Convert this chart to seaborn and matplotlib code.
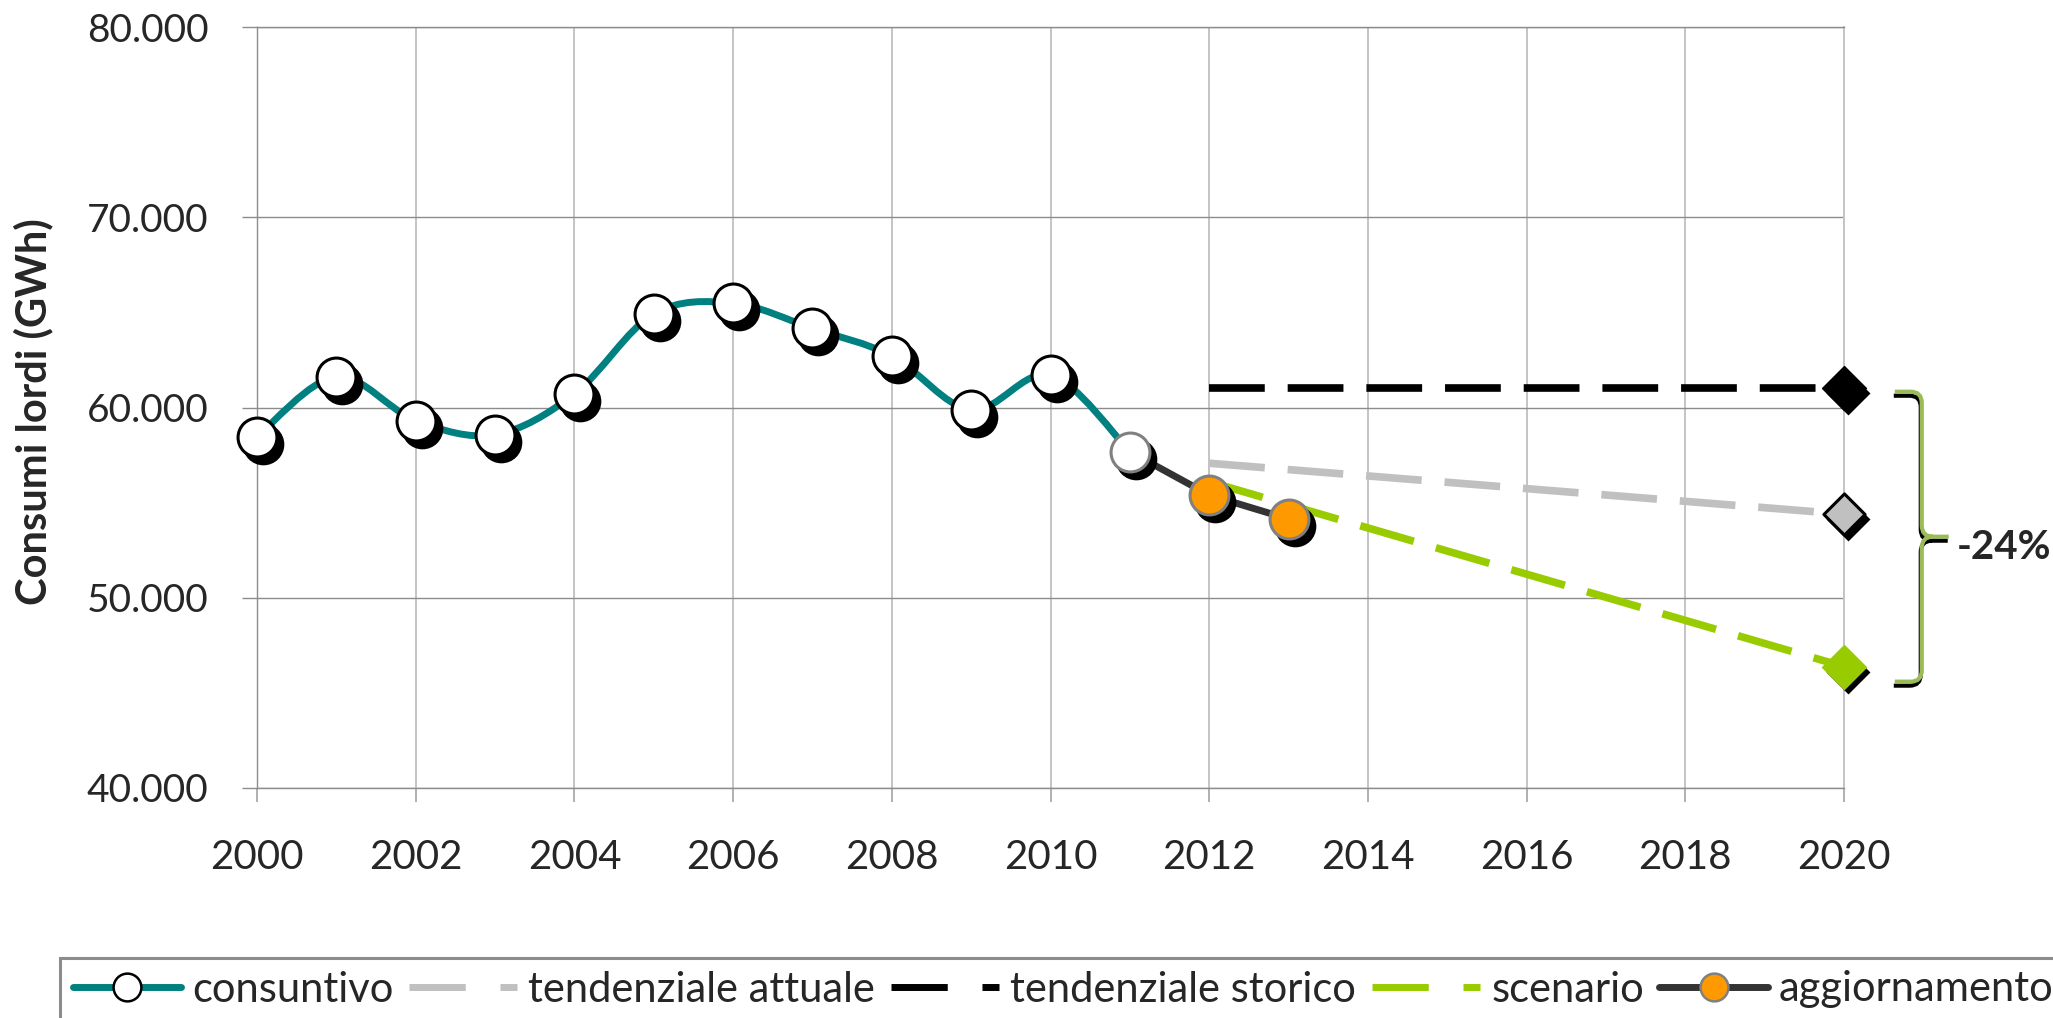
import numpy as np
import matplotlib
matplotlib.use("Agg")
import matplotlib.pyplot as plt
from matplotlib.path import Path
from matplotlib.patches import PathPatch
from matplotlib.lines import Line2D
from matplotlib.transforms import offset_copy
from matplotlib.ticker import FuncFormatter
import seaborn as sns

# consumi lordi (GWh)
anni_consuntivo = [2000, 2001, 2002, 2003, 2004, 2005, 2006, 2007, 2008, 2009, 2010, 2011]
consuntivo = [58470, 61620, 59310, 58570, 60710, 64920, 65480, 64160, 62710, 59870, 61710, 57680]

anni_aggiornamento = [2011, 2012, 2013]
aggiornamento = [57680, 55400, 54140]

anni_tendenza = [2012, 2020]
tendenziale_attuale = [57070, 54400]
tendenziale_storico = [61050, 61050]
scenario = [56100, 46380]

# graffa a destra (anno, GWh)
graffa_x = [2020.64, 2020.98, 2021.32]
graffa_y = [60830, 53210, 45590]

etichette = ['consuntivo', 'tendenziale attuale', 'tendenziale storico',
             'scenario', 'aggiornamento']

TEAL = '#008080'
GRIGIO = '#C0C0C0'
VERDE = '#99CC00'
ARANCIO = '#FF9900'
SCURO = '#333333'
OLIVA = '#9BBB59'

sns.set_style("white")
plt.rcParams['font.family'] = ['Lato', 'DejaVu Sans']


def smooth_path(xs, ys):
    """Curva liscia tipo Excel (Bezier cubica sui punti)"""
    pts = np.column_stack([xs, ys]).astype(float)
    verts = [pts[0]]
    codes = [Path.MOVETO]
    n = len(pts)
    for i in range(n - 1):
        p0 = pts[max(i - 1, 0)]
        p1 = pts[i]
        p2 = pts[i + 1]
        p3 = pts[min(i + 2, n - 1)]
        verts += [p1 + (p2 - p0) / 6, p2 - (p3 - p1) / 6, p2]
        codes += [Path.CURVE4] * 3
    return Path(verts, codes)


W, H = 2053, 1018
fig = plt.figure(figsize=(W / 100, H / 100), dpi=100)
ax = fig.add_axes([257 / W, (H - 788) / H, (1844 - 257) / W, (788 - 27) / H])

ax.set_xlim(2000, 2020)
ax.set_ylim(40000, 80000)

# griglia
ax.set_xticks(range(2000, 2021, 2))
ax.set_yticks(range(40000, 80001, 10000))
ax.yaxis.set_major_formatter(FuncFormatter(lambda v, p: f"{v:,.0f}".replace(',', '.')))
ax.grid(axis='y', color='#8C8C8C', lw=1.0)
ax.grid(axis='x', color='#C4C4C4', lw=1.4)
ax.set_axisbelow(True)
for s in ['top', 'bottom']:
    ax.spines[s].set_color('#8C8C8C')
    ax.spines[s].set_linewidth(1.0)
ax.spines['left'].set_color('#8C8C8C')
ax.spines['left'].set_linewidth(1.0)
ax.spines['right'].set_color('#C4C4C4')
ax.spines['right'].set_linewidth(1.4)

ax.tick_params(axis='y', direction='out', length=10.8, width=1.0, color='#8C8C8C',
               pad=24, labelsize=28, left=True)
ax.tick_params(axis='x', direction='out', length=10, width=1.4, color='#B0B0B0',
               pad=27, labelsize=29, bottom=True)

# linee tratteggiate
tratto = (0, (7.3, 3.0))
sns.lineplot(x=anni_tendenza, y=tendenziale_attuale, color=GRIGIO, lw=5.5,
             linestyle=tratto, dash_capstyle='butt', ax=ax, zorder=2)
sns.lineplot(x=anni_tendenza, y=tendenziale_storico, color='black', lw=5.5,
             linestyle=tratto, dash_capstyle='butt', ax=ax, zorder=2)
sns.lineplot(x=anni_tendenza, y=scenario, color=VERDE, lw=5.5,
             linestyle=tratto, dash_capstyle='butt', ax=ax, zorder=2)

# consuntivo (linea smussata)
ax.add_patch(PathPatch(smooth_path(anni_consuntivo, consuntivo), fill=False,
                       edgecolor=TEAL, lw=5, capstyle='round', zorder=3))
sns.lineplot(x=anni_aggiornamento, y=aggiornamento, color=SCURO, lw=5, ax=ax, zorder=3)

# ombre dei marker
ombra = offset_copy(ax.transData, fig=fig, x=6, y=-7, units='dots')
ombra_d = offset_copy(ax.transData, fig=fig, x=4, y=-5, units='dots')
sns.scatterplot(x=anni_consuntivo + anni_aggiornamento[1:],
                y=consuntivo + aggiornamento[1:], s=900, color='black',
                linewidth=0, transform=ombra, zorder=4, ax=ax, legend=False, clip_on=False)
sns.scatterplot(x=[2020] * 3, y=[tendenziale_storico[-1], tendenziale_attuale[-1], scenario[-1]],
                marker='D', s=500, color='black', linewidth=0, transform=ombra_d,
                zorder=4, ax=ax, legend=False, clip_on=False)

# marker
sns.scatterplot(x=anni_consuntivo[:-1], y=consuntivo[:-1], s=784, color='white',
                edgecolor='black', linewidth=2.2, zorder=5, ax=ax, legend=False, clip_on=False)
sns.scatterplot(x=anni_aggiornamento[:1], y=aggiornamento[:1], s=784, color='white',
                edgecolor='#808080', linewidth=2.2, zorder=5, ax=ax, legend=False)
sns.scatterplot(x=anni_aggiornamento[1:], y=aggiornamento[1:], s=784, color=ARANCIO,
                edgecolor='#808080', linewidth=2.2, zorder=5, ax=ax, legend=False)

sns.scatterplot(x=[2020], y=[tendenziale_storico[-1]], marker='D', s=500, color='black',
                edgecolor='black', linewidth=1, zorder=6, ax=ax, legend=False, clip_on=False)
sns.scatterplot(x=[2020], y=[tendenziale_attuale[-1]], marker='D', s=440, color=GRIGIO,
                edgecolor='black', linewidth=2.2, zorder=6, ax=ax, legend=False, clip_on=False)
sns.scatterplot(x=[2020], y=[scenario[-1]], marker='D', s=500, color=VERDE,
                edgecolor=VERDE, linewidth=1, zorder=6, ax=ax, legend=False, clip_on=False)

# graffa -24%
xl, xv, xt = graffa_x
y0, ym, y1 = graffa_y
rx, ry = 0.14, 600
verts = [(xl, y0), (xv - rx, y0), (xv, y0), (xv, y0 - ry), (xv, ym + ry),
         (xv, ym), (xv + rx, ym), (xt, ym),
         (xv + rx, ym), (xv, ym), (xv, ym - ry), (xv, y1 + ry),
         (xv, y1), (xv - rx, y1), (xl, y1)]
codes = [Path.MOVETO, Path.LINETO, Path.CURVE3, Path.CURVE3, Path.LINETO,
         Path.CURVE3, Path.CURVE3, Path.LINETO,
         Path.MOVETO, Path.CURVE3, Path.CURVE3, Path.LINETO,
         Path.CURVE3, Path.CURVE3, Path.LINETO]
graffa = Path(verts, codes)
ombra_g = offset_copy(ax.transData, fig=fig, x=-1, y=-4, units='dots')
ax.add_patch(PathPatch(graffa, fill=False, edgecolor='black', lw=3, transform=ombra_g,
                       clip_on=False, zorder=6))
ax.add_patch(PathPatch(graffa, fill=False, edgecolor=OLIVA, lw=3, clip_on=False, zorder=7))
variazione = (scenario[-1] / tendenziale_storico[-1] - 1) * 100
ax.text(xt + 0.1, ym - 550, f"{variazione:.0f}%", ha='left', va='center',
        fontsize=29, fontweight='bold', clip_on=False)

ax.set_xlabel('')
ax.set_ylabel('')
fig.text(33 / W, (H - 412) / H, 'Consumi lordi (GWh)', rotation=90, ha='center',
         va='center', fontsize=30, fontweight='bold')

# legenda
tratto_leg = (0, (8.1, 5.0))
handles = [
    Line2D([0], [0], color=TEAL, lw=5, marker='o', ms=20, mfc='white', mec='black', mew=1.8),
    Line2D([0], [0], color=GRIGIO, lw=5, linestyle=tratto_leg, dash_capstyle='butt'),
    Line2D([0], [0], color='black', lw=5, linestyle=tratto_leg, dash_capstyle='butt'),
    Line2D([0], [0], color=VERDE, lw=5, linestyle=tratto_leg, dash_capstyle='butt'),
    Line2D([0], [0], color=SCURO, lw=5, marker='o', ms=20, mfc=ARANCIO, mec='#808080', mew=1.8),
]
leg = fig.legend(handles, etichette, loc='upper left', bbox_to_anchor=(60 / W, 1 - 958 / H),
                 ncol=5, fontsize=30, frameon=True, fancybox=False, framealpha=1,
                 handlelength=2.6, handletextpad=0.27, columnspacing=0.37,
                 borderpad=0.3, borderaxespad=0)
leg.get_frame().set_edgecolor('#8C8C8C')
leg.get_frame().set_linewidth(2.2)

fig.savefig('out.png', dpi=100)
